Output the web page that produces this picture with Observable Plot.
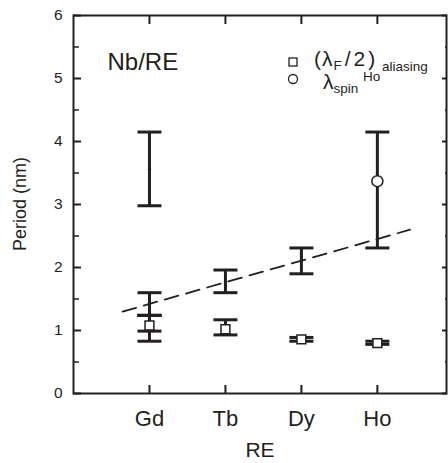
<!DOCTYPE html>
<html>
<head>
<meta charset="utf-8">
<script src="https://cdn.jsdelivr.net/npm/d3@7"></script>
<script src="https://cdn.jsdelivr.net/npm/@observablehq/plot@0.6"></script>
<style>
  html, body { margin: 0; padding: 0; background: #fff; }
  #chart { width: 448px; height: 463px; }
  svg { font-family: "Liberation Sans", Arial, sans-serif; overflow: visible; }
</style>
</head>
<body>
<div id="chart"></div>
<script>
// ---- data ----
const reNames = ["Gd", "Tb", "Dy", "Ho"];
const rePos = [1, 2, 3, 4];
const yTicks = [0, 1, 2, 3, 4, 5, 6];
const yMinor = [0.5, 1.5, 2.5, 3.5, 4.5, 5.5];

// error bars (lower / upper ends)
const barRE   = ["Gd", "Gd", "Gd", "Gd", "Tb", "Tb", "Dy", "Dy", "Ho", "Ho"];
const barLow  = [2.98, 1.24, 0.99, 0.83, 1.60, 0.93, 1.90, 0.83, 2.31, 0.78];
const barHigh = [4.15, 1.60, 1.24, 1.24, 1.96, 1.17, 2.31, 0.89, 4.15, 0.83];

// (λF/2) aliasing squares
const sqRE  = ["Gd", "Tb", "Dy", "Ho"];
const sqVal = [1.08, 1.02, 0.86, 0.80];

// λspin Ho circle
const circRE  = ["Ho"];
const circVal = [3.37];

// centre of Gd upper bar (small mark)
const midRE  = ["Gd"];
const midVal = [3.56];

// dashed trend line endpoints
const fitX = [0.645, 4.43];
const fitY = [1.30, 2.60];

// ---- build ----
const posOf = (n) => rePos[reNames.indexOf(n)];
const bars = barRE.map((r, i) => ({x: posOf(r), lo: barLow[i], hi: barHigh[i]}));
const caps = bars.flatMap(b => [{x: b.x, y: b.lo}, {x: b.x, y: b.hi}]);
const squares = sqRE.map((r, i) => ({x: posOf(r), y: sqVal[i]}));
const circles = circRE.map((r, i) => ({x: posOf(r), y: circVal[i]}));
const mids = midRE.map((r, i) => ({x: posOf(r), y: midVal[i]}));
const fit = fitX.map((x, i) => ({x, y: fitY[i]}));

const capSymbol = {
  draw(context, size) {
    const w = Math.sqrt(size / Math.PI);
    context.moveTo(-w, 0);
    context.lineTo(w, 0);
  }
};

const ink = "#231f20";

const chart = Plot.plot({
  width: 448,
  height: 463,
  marginLeft: 73,
  marginRight: 2,
  marginTop: 15,
  marginBottom: 70,
  style: {fontFamily: "Liberation Sans, Arial, sans-serif", color: ink, background: "white"},
  x: {domain: [0, 4.91]},
  y: {domain: [0, 6]},
  marks: [
    Plot.frame({stroke: ink, strokeWidth: 2}),
    // bottom axis
    Plot.axisX({anchor: "bottom", ticks: rePos, tickSize: -8, tickPadding: 25, strokeWidth: 2,
      tickFormat: (d) => reNames[rePos.indexOf(d)], fontSize: 22,
      label: null}),
    Plot.axisX({anchor: "top", ticks: rePos, tickSize: -8, strokeWidth: 2, tickFormat: () => "", label: null}),
    // left axis
    Plot.axisY({anchor: "left", ticks: yTicks, tickSize: -8, tickPadding: 19, strokeWidth: 2,
      tickFormat: (d) => String(d), fontSize: 15.5, label: null}),
    Plot.axisY({anchor: "left", ticks: yMinor, tickSize: -6, strokeWidth: 1.5, tickFormat: () => "", label: null}),
    Plot.axisY({anchor: "right", ticks: yTicks, tickSize: -5, strokeWidth: 2, tickFormat: () => "", label: null}),
    Plot.axisY({anchor: "right", ticks: yMinor, tickSize: -2, strokeWidth: 1.5, tickFormat: () => "", label: null}),
    // dashed trend
    Plot.line(fit, {x: "x", y: "y", stroke: ink, strokeWidth: 1.8, strokeDasharray: "14,8"}),
    // error bars
    Plot.ruleX(bars, {x: "x", y1: "lo", y2: "hi", stroke: ink, strokeWidth: 3}),
    Plot.dot(caps, {x: "x", y: "y", symbol: capSymbol, r: 12, stroke: ink, strokeWidth: 3, fill: "none"}),
    Plot.dot(mids, {x: "x", y: "y", r: 1.6, fill: ink, stroke: "none"}),
    Plot.dot(squares, {x: "x", y: "y", symbol: "square", r: 5, fill: "white", stroke: ink, strokeWidth: 1.5}),
    Plot.dot(circles, {x: "x", y: "y", symbol: "circle", r: 5.5, fill: "white", stroke: ink, strokeWidth: 1.5}),
    Plot.text(["Nb/RE"], {frameAnchor: "top-left", dx: 34, dy: 47, fontSize: 24, fill: ink, textAnchor: "start", lineAnchor: "middle"})
  ]
});

const svg = d3.select(chart);

// axis titles
svg.append("text")
  .attr("transform", "translate(21,204) rotate(-90)")
  .attr("text-anchor", "middle").attr("dominant-baseline", "middle")
  .attr("font-size", 18).attr("fill", ink)
  .text("Period (nm)");
svg.append("text")
  .attr("x", 260).attr("y", 457)
  .attr("text-anchor", "middle")
  .attr("font-size", 21).attr("fill", ink)
  .text("RE");

// legend
const lg = svg.append("g").attr("fill", ink).attr("text-anchor", "start");
lg.append("rect").attr("x", 289).attr("y", 58).attr("width", 8).attr("height", 8)
  .attr("fill", "white").attr("stroke", ink).attr("stroke-width", 1.3);
lg.append("circle").attr("cx", 293).attr("cy", 79).attr("r", 4.5)
  .attr("fill", "white").attr("stroke", ink).attr("stroke-width", 1.3);
const t1 = lg.append("text").attr("x", 314).attr("y", 66).attr("font-size", 21);
t1.append("tspan").text("(");
t1.append("tspan").attr("dx", 1).text("λ");
t1.append("tspan").attr("font-size", 13.5).attr("dx", 1).attr("dy", 4).text("F");
t1.append("tspan").attr("dx", 3).attr("dy", -4).text("/");
t1.append("tspan").attr("dx", 3).text("2");
t1.append("tspan").attr("dx", 3).text(")");
lg.append("text").attr("x", 382).attr("y", 71).attr("font-size", 13.5).text("aliasing");
const t2 = lg.append("text").attr("x", 323).attr("y", 89).attr("font-size", 21);
t2.append("tspan").text("λ");
t2.append("tspan").attr("font-size", 13.5).attr("dy", 4).text("spin");
lg.append("text").attr("x", 363).attr("y", 80.5).attr("font-size", 13.5).text("Ho");

document.getElementById("chart").appendChild(chart);
</script>
</body>
</html>
